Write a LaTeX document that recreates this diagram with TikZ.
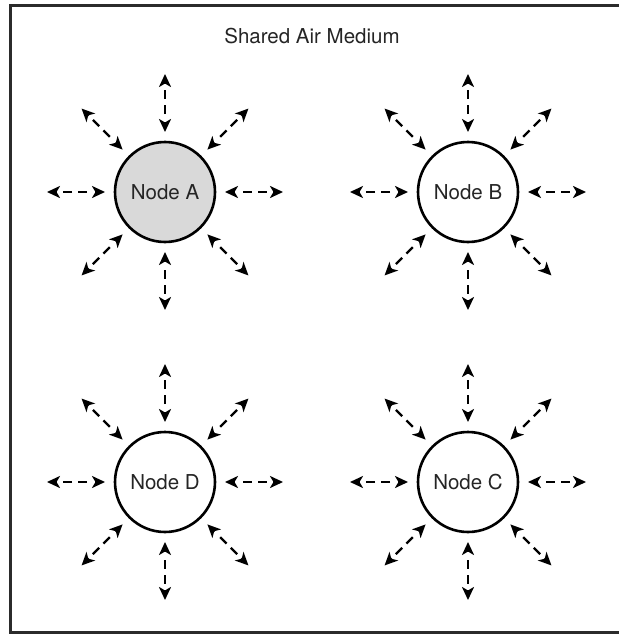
\documentclass[tikz,border=0pt]{standalone}
\usepackage{fontspec}
\setmainfont{TeX Gyre Heros}
\usetikzlibrary{arrows.meta,calc}
\definecolor{txt}{HTML}{252525}
\definecolor{fillA}{HTML}{D9D9D9}
\definecolor{framec}{HTML}{2B2B2B}
\begin{document}
\begin{tikzpicture}[x=1pt,y=-1pt,
  station/.style={circle,draw=black,line width=2.6pt,minimum size=100pt,inner sep=0pt,
    font=\fontsize{20.5}{24}\selectfont,text=txt},
  wavedash/.style={line width=2.4pt,dash pattern=on 9pt off 6pt},
  wavehead/.style={line width=2.4pt,-{Stealth[length=13pt,width=12pt,inset=3.5pt]}},
  titletext/.style={font=\fontsize{20.5}{24}\selectfont,text=txt,anchor=base}]
\useasboundingbox (0,0) rectangle (618,634);
\draw[framec,line width=3pt] (10.5,5.5) rectangle (640,632.5);
\node[titletext] (title) at (312,43.3) {Shared Air Medium};
\node[station,fill=fillA] (A) at (165,192) {Node A};
\node[station] (B) at (468,192) {Node B};
\node[station] (C) at (468,482) {Node C};
\node[station] (D) at (165,482) {Node D};
\foreach \n in {A,B,C,D}{
  \foreach \a in {0,45,...,315}{
    \draw[wavedash] ($(\n.center)+(\a:78)$) -- ($(\n.center)+(\a:102)$);
    \draw[wavehead] ($(\n.center)+(\a:70)$) -- ($(\n.center)+(\a:60)$);
    \draw[wavehead] ($(\n.center)+(\a:108)$) -- ($(\n.center)+(\a:118)$);
  }
}
\end{tikzpicture}
\end{document}
